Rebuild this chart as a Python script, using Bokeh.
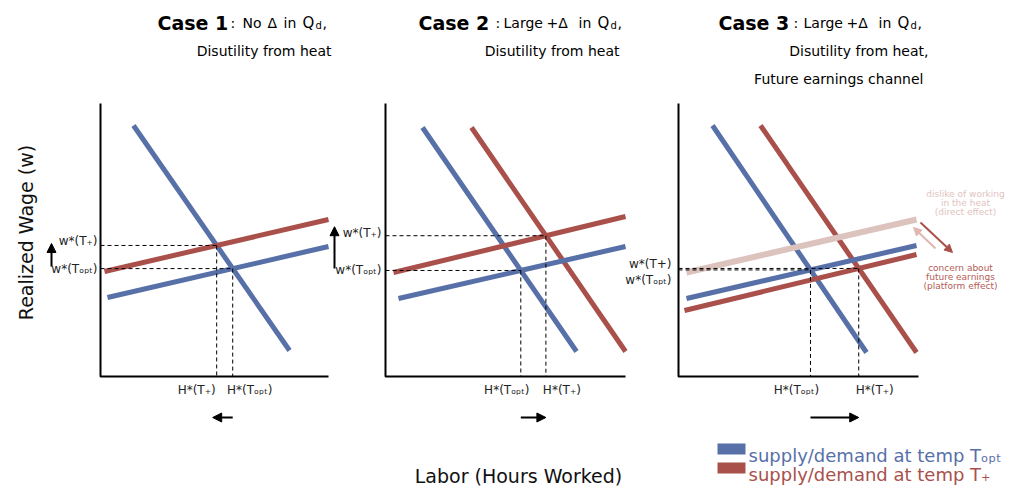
import math
from bokeh.plotting import figure
from bokeh.models import Range1d, ColumnDataSource, Arrow, NormalHead
from bokeh.core.properties import value
from bokeh.embed import file_html
from bokeh.resources import INLINE

FONT = "DejaVu Sans"
BLUE = "#5770a8"
RED = "#a9504b"
PINK = "#dcc3be"
PINK_TXT = "#e2c3be"
RED_TXT = "#b35c56"

# ---------------- data (canvas units of the schematic) ----------------
axis_x0 = [100, 385, 678]
axis_x1 = [328, 625, 918]
axis_top = 103
axis_bottom = 376

# Case 1
c1_demand_opt_x = [133, 289]
c1_demand_opt_y = [125, 350]
c1_supply_opt_x = [107, 328]
c1_supply_opt_y = [297, 246]
c1_supply_plus_x = [104, 328]
c1_supply_plus_y = [271, 219]

# Case 2
c2_demand_opt_x = [422, 576]
c2_demand_opt_y = [127, 351]
c2_demand_plus_x = [471, 625]
c2_demand_plus_y = [127, 351]
c2_supply_opt_x = [398, 625]
c2_supply_opt_y = [298, 246]
c2_supply_plus_x = [393, 625]
c2_supply_plus_y = [272, 216]

# Case 3
c3_demand_opt_x = [712, 866]
c3_demand_opt_y = [125, 352]
c3_demand_plus_x = [760, 916]
c3_demand_plus_y = [125, 352]
c3_supply_heat_x = [686, 916]
c3_supply_heat_y = [272, 219]
c3_supply_opt_x = [686, 916]
c3_supply_opt_y = [298, 245]
c3_supply_plus_x = [684, 916]
c3_supply_plus_y = [310, 254]

titles_bold = ["Case 1", "Case 2", "Case 3"]
legend_labels = ["supply/demand at temp T\u2092\u209a\u209c", "supply/demand at temp T\u208a"]
legend_colors = [BLUE, RED]
x_label = "Labor (Hours Worked)"
y_label = "Realized Wage (w)"

# ---------------- helpers ----------------
def intersect(ax, ay, bx, by):
    m1 = (ay[1] - ay[0]) / (ax[1] - ax[0])
    m2 = (by[1] - by[0]) / (bx[1] - bx[0])
    x = (by[0] - ay[0] + m1 * ax[0] - m2 * bx[0]) / (m1 - m2)
    return x, ay[0] + m1 * (x - ax[0])

p = figure(width=1011, height=487, x_range=Range1d(0, 1011), y_range=Range1d(487, 0),
           output_backend="svg", toolbar_location=None, x_axis_type=None, y_axis_type=None,
           min_border=0, outline_line_color=None)
p.xgrid.visible = False
p.ygrid.visible = False
p.background_fill_color = "white"
p.border_fill_color = "white"


def txt(xs, ys, texts, size, color="black", align="left", baseline="alphabetic", style="normal", angle=0.0):
    cols = color if isinstance(color, list) else [color] * len(xs)
    src = ColumnDataSource(dict(x=xs, y=ys, t=texts, c=cols))
    p.text("x", "y", text="t", source=src, text_font=value(FONT), text_font_size=value(size),
           text_color="c", text_align=align, text_baseline=baseline, text_font_style=style,
           angle=angle)


def line(xs, ys, color, width=5, alpha=1.0):
    p.line(xs, ys, line_color=color, line_width=width, line_alpha=alpha, line_cap="butt")


# colored curves
line(c1_demand_opt_x, c1_demand_opt_y, BLUE)
line(c1_supply_opt_x, c1_supply_opt_y, BLUE)
line(c1_supply_plus_x, c1_supply_plus_y, RED)

line(c2_demand_opt_x, c2_demand_opt_y, BLUE)
line(c2_demand_plus_x, c2_demand_plus_y, RED)
line(c2_supply_opt_x, c2_supply_opt_y, BLUE)
line(c2_supply_plus_x, c2_supply_plus_y, RED)

line(c3_demand_opt_x, c3_demand_opt_y, BLUE)
line(c3_demand_plus_x, c3_demand_plus_y, RED)
line(c3_supply_heat_x, c3_supply_heat_y, PINK, width=6)
line(c3_supply_opt_x, c3_supply_opt_y, BLUE)
line(c3_supply_plus_x, c3_supply_plus_y, RED)

# equilibria
eq = [
    (intersect(c1_demand_opt_x, c1_demand_opt_y, c1_supply_opt_x, c1_supply_opt_y),
     intersect(c1_demand_opt_x, c1_demand_opt_y, c1_supply_plus_x, c1_supply_plus_y)),
    (intersect(c2_demand_opt_x, c2_demand_opt_y, c2_supply_opt_x, c2_supply_opt_y),
     intersect(c2_demand_plus_x, c2_demand_plus_y, c2_supply_plus_x, c2_supply_plus_y)),
    (intersect(c3_demand_opt_x, c3_demand_opt_y, c3_supply_opt_x, c3_supply_opt_y),
     intersect(c3_demand_plus_x, c3_demand_plus_y, c3_supply_plus_x, c3_supply_plus_y)),
]

dx, dy = [], []
for i, (eo, ep) in enumerate(eq):
    for (ex, ey) in (eo, ep):
        dx.append([axis_x0[i], ex]); dy.append([ey, ey])
        dx.append([ex, ex]); dy.append([ey, axis_bottom])
p.multi_line(dx, dy, line_color="black", line_width=1, line_dash="4 3")

# axes
ax_x, ax_y = [], []
for i in range(3):
    ax_x.append([axis_x0[i], axis_x0[i], axis_x1[i]])
    ax_y.append([axis_top, axis_bottom, axis_bottom])
p.multi_line(ax_x, ax_y, line_color="black", line_width=2)

# equilibrium labels
SUB_P = "T\u208a"
SUB_O = "T\u2092\u209a\u209c"
wl_x = [97, 97, 381, 381, 671, 671]
wl_y = [eq[0][1][1] - 4, eq[0][0][1], eq[1][1][1] - 3, eq[1][0][1], eq[2][1][1] - 4, eq[2][0][1] + 10]
wl_t = ["w*(" + SUB_P + ")", "w*(" + SUB_O + ")", "w*(" + SUB_P + ")", "w*(" + SUB_O + ")",
        "w*(T+)", "w*(" + SUB_O + ")"]
txt(wl_x, wl_y, wl_t, "12px", color="#222222", align="right", baseline="middle")

hl_x, hl_t = [], []
for i, (eo, ep) in enumerate(eq):
    hl_x += [ep[0] - 20 if i == 0 else eo[0] - 14, eo[0] + 17 if i == 0 else ep[0] + 16]
    hl_t += (["H*(" + SUB_P + ")", "H*(" + SUB_O + ")"] if i == 0
             else ["H*(" + SUB_O + ")", "H*(" + SUB_P + ")"])
txt(hl_x, [389] * 6, hl_t, "12px", color="#222222", align="center", baseline="middle")

# arrows (shifts)
for i, (eo, ep) in enumerate(eq):
    p.add_layout(Arrow(end=NormalHead(size=9, fill_color="black", line_color="black"),
                       x_start=eo[0], y_start=417, x_end=ep[0] - (4 if i == 0 else 0), y_end=417,
                       line_width=2, line_color="black"))
for xa, i in ((51, 0), (334, 1)):
    p.add_layout(Arrow(end=NormalHead(size=9, fill_color="black", line_color="black"),
                       x_start=xa, y_start=eq[i][0][1] - 2, x_end=xa, y_end=eq[i][1][1] - (2 if i == 0 else 9),
                       line_width=2, line_color="black"))

# titles
txt([157, 418, 718], [22, 22, 22], titles_bold, "19px", style="bold")
txt([230, 242, 267, 283], [22] * 4, [":", "No", "\u0394", "in"], "14px")
txt([495, 503, 546, 578], [22] * 4, [":", "Large", "+\u0394", "in"], "14px")
txt([793, 803, 846, 878], [22] * 4, [":", "Large", "+\u0394", "in"], "14px")
txt([302, 597, 897], [22, 22, 22], ["Q", "Q", "Q"], "15px")
txt([315, 610, 910], [25, 25, 25], ["d", "d", "d"], "10px")
txt([322, 617, 917], [22, 22, 22], [",", ",", ","], "14px")
txt([331, 619, 928, 923], [50, 50, 50, 78],
    ["Disutility from heat", "Disutility from heat", "Disutility from heat,", "Future earnings channel"],
    "14px", align="right")

# case 3 annotations
txt([965, 965, 965], [193, 202, 211], ["dislike of working", "in the heat", "(direct effect)"],
    "9px", color=PINK_TXT, align="center", baseline="middle")
txt([960, 960, 960], [267, 276, 285], ["concern about", "future earnings", "(platform effect)"],
    "9px", color=RED_TXT, align="center", baseline="middle")
p.add_layout(Arrow(end=NormalHead(size=8, fill_color="#dfb6b0", line_color="#dfb6b0"),
                   x_start=935, y_start=248, x_end=913, y_end=227, line_width=2, line_color="#dfb6b0"))
p.add_layout(Arrow(end=NormalHead(size=8, fill_color=RED, line_color=RED),
                   x_start=920, y_start=222, x_end=952, y_end=252, line_width=2, line_color=RED))

# axis labels
txt([518], [475], [x_label], "19px", color="#111111", align="center")
txt([25], [232], [y_label], "19px", color="#111111", align="center", baseline="middle", angle=math.pi / 2)

# legend
p.quad(left=[717, 717], right=[745, 745], top=[443, 462], bottom=[454, 473],
       fill_color=legend_colors, line_color=None)
txt([748, 748], [455, 474], legend_labels, "18px", color=legend_colors)

open("out.html", "w").write(file_html(p, INLINE))
